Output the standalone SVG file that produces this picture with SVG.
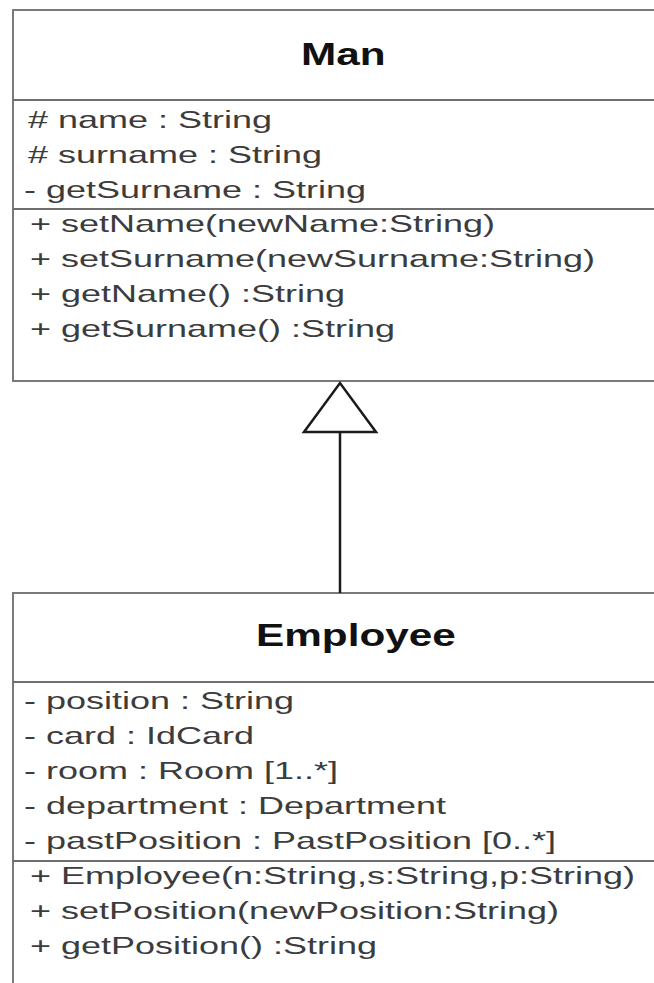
<svg xmlns="http://www.w3.org/2000/svg" width="654" height="983" viewBox="0 0 654 983">
  <style>
    .box { fill: #ffffff; stroke: #7a7a7a; stroke-width: 2; }
    .div { stroke: #6e6e6e; stroke-width: 2; fill: none; }
    .title { font-family: "Liberation Sans", Arial, sans-serif; font-weight: bold; font-size: 31px; fill: #111111; }
    .txt { font-family: "Liberation Sans", Arial, sans-serif; font-size: 24px; fill: #3c3c3c; }
    .conn { stroke: #1a1a1a; stroke-width: 2.5; fill: none; }
  </style>
  <defs>
    <marker id="gen" markerUnits="userSpaceOnUse" orient="auto" viewBox="-3 -39 55 78" markerWidth="55" markerHeight="78" refX="49" refY="0" overflow="visible">
      <path d="M 0 -36 L 49 0 L 0 36 Z" fill="#ffffff" stroke="#1a1a1a" stroke-width="2.5" stroke-linejoin="miter"/>
    </marker>
  </defs>
  <rect width="654" height="983" fill="#ffffff"/>

  <g id="man">
    <rect class="box" x="13" y="10" width="660" height="371"/>
    <line class="div" x1="13" y1="100" x2="654" y2="100"/>
    <line class="div" x1="13" y1="209" x2="654" y2="209"/>
    <text class="title" transform="translate(301,65) scale(1.365,1)">Man</text>
    <text class="txt" transform="translate(28,128) scale(1.5,1)"># name : String</text>
    <text class="txt" transform="translate(28,163) scale(1.5,1)"># surname : String</text>
    <text class="txt" transform="translate(24,198) scale(1.5,1)">- getSurname : String</text>
    <text class="txt" transform="translate(30,232) scale(1.5,1)">+ setName(newName:String)</text>
    <text class="txt" transform="translate(30,267) scale(1.5,1)">+ setSurname(newSurname:String)</text>
    <text class="txt" transform="translate(30,302) scale(1.5,1)">+ getName() :String</text>
    <text class="txt" transform="translate(30,337) scale(1.5,1)">+ getSurname() :String</text>
  </g>

  <g id="employee">
    <rect class="box" x="13" y="593" width="660" height="420"/>
    <line class="div" x1="13" y1="682" x2="654" y2="682"/>
    <line class="div" x1="13" y1="861" x2="654" y2="861"/>
    <text class="title" transform="translate(256,646) scale(1.365,1)">Employee</text>
    <text class="txt" transform="translate(24,709) scale(1.5,1)">- position : String</text>
    <text class="txt" transform="translate(24,744) scale(1.5,1)">- card : IdCard</text>
    <text class="txt" transform="translate(24,779) scale(1.5,1)">- room : Room [1..*]</text>
    <text class="txt" transform="translate(24,814) scale(1.5,1)">- department : Department</text>
    <text class="txt" transform="translate(24,849) scale(1.5,1)">- pastPosition : PastPosition [0..*]</text>
    <text class="txt" transform="translate(30,884) scale(1.5,1)">+ Employee(n:String,s:String,p:String)</text>
    <text class="txt" transform="translate(30,919) scale(1.5,1)">+ setPosition(newPosition:String)</text>
    <text class="txt" transform="translate(30,954) scale(1.5,1)">+ getPosition() :String</text>
  </g>

  <g id="connectors">
    <line class="conn" x1="340" y1="593" x2="340" y2="383" marker-end="url(#gen)"/>
  </g>
</svg>
